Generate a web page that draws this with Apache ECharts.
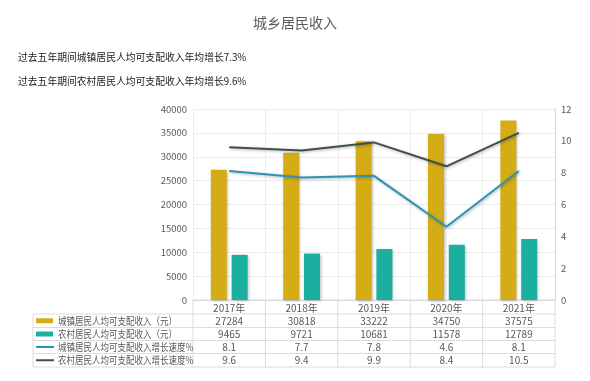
<!DOCTYPE html>
<html><head><meta charset="utf-8">
<script src="https://cdn.jsdelivr.net/npm/echarts@6/dist/echarts.min.js"></script>
<style>html,body{margin:0;padding:0;background:#fff}#c{width:590px;height:381px}</style>
</head><body><div id="c"></div>
<script>
var categories = ['2017年','2018年','2019年','2020年','2021年'];
var urbanIncome = [27284, 30818, 33222, 34750, 37575];
var ruralIncome = [9465, 9721, 10681, 11578, 12789];
var urbanGrowth = [8.1, 7.7, 7.8, 4.6, 8.1];
var ruralGrowth = [9.6, 9.4, 9.9, 8.4, 10.5];
var seriesNames = ['城镇居民人均可支配收入（元）','农村居民人均可支配收入（元）','城镇居民人均可支配收入增长速度%','农村居民人均可支配收入增长速度%'];
var title = '城乡居民收入';
var notes = ['过去五年期间城镇居民人均可支配收入年均增长7.3%','过去五年期间农村居民人均可支配收入年均增长9.6%'];

var C_GOLD = '#D4AC16', C_TEAL = '#1BAFA0', C_BLUE = '#2E93B3', C_DARK = '#3D4F4B';
var GL = 193, GR = 555, GT = 109, GB = 300;
var font = 'Noto Sans CJK SC';
var chart = echarts.init(document.getElementById('c'));
var shadow = {shadowColor:'rgba(0,0,0,0.3)', shadowBlur:3, shadowOffsetX:1, shadowOffsetY:1};
chart.setOption({
  animation:false,
  textStyle:{fontFamily:font},
  title:{text:title,left:'center',top:11,textStyle:{fontSize:14,fontWeight:'normal',color:'#595959',fontFamily:font}},
  grid:{left:GL,right:590-GR,top:GT,bottom:381-GB,containLabel:false},
  xAxis:{type:'category',data:categories,
    axisLine:{lineStyle:{color:'#d9d9d9'}},axisTick:{show:true,length:0,lineStyle:{color:'#d9d9d9'}},
    splitLine:{show:true,lineStyle:{color:'#ececec'}},
    axisLabel:{color:'#595959',fontSize:10,margin:3}},
  yAxis:[
    {type:'value',min:0,max:40000,interval:5000,axisLine:{show:false},axisTick:{show:false},
     splitLine:{lineStyle:{color:'#ececec'}},axisLabel:{color:'#595959',fontSize:9.5,margin:6,formatter:function(v){return String(v);}}},
    {type:'value',min:0,max:12,interval:2,axisLine:{show:true,lineStyle:{color:'#d9d9d9'}},axisTick:{show:false},
     splitLine:{show:false},axisLabel:{color:'#595959',fontSize:9.5,margin:6}}
  ],
  series:[
    {name:seriesNames[0],type:'bar',data:urbanIncome,barWidth:16,barGap:'30%',itemStyle:Object.assign({color:C_GOLD},shadow)},
    {name:seriesNames[1],type:'bar',data:ruralIncome,barWidth:16,barGap:'30%',itemStyle:Object.assign({color:C_TEAL},shadow)},
    {name:seriesNames[2],type:'line',yAxisIndex:1,data:urbanGrowth,symbol:'none',lineStyle:Object.assign({color:C_BLUE,width:2},shadow),itemStyle:{color:C_BLUE}},
    {name:seriesNames[3],type:'line',yAxisIndex:1,data:ruralGrowth,symbol:'none',lineStyle:Object.assign({color:C_DARK,width:2},shadow),itemStyle:{color:C_DARK}}
  ]
});

// Data table + notes
var rows = [urbanIncome, ruralIncome, urbanGrowth, ruralGrowth];
var colors = [C_GOLD, C_TEAL, C_BLUE, C_DARK];
var rowTop = [314, 327.5, 340.5, 353.5, 367];
var tableLeft = 33;
var g = [];
notes.forEach(function(t,i){
  g.push({type:'text',x:18,y:57+i*24,style:{text:t,fontSize:9.8,fill:'#1a1a1a',fontFamily:font,textVerticalAlign:'middle',textBaseline:'middle'}});
});
var lc = '#dcdcdc';
g.push({type:'line',shape:{x1:GL,y1:GB,x2:GR,y2:GB},style:{stroke:lc}});
rowTop.forEach(function(y){ g.push({type:'line',shape:{x1:tableLeft,y1:y,x2:GR,y2:y},style:{stroke:lc}}); });
g.push({type:'line',shape:{x1:tableLeft,y1:rowTop[0],x2:tableLeft,y2:rowTop[4]},style:{stroke:lc}});
var step = (GR-GL)/categories.length;
for (var k=0;k<=categories.length;k++){
  var x = GL + k*step;
  g.push({type:'line',shape:{x1:x,y1:GB,x2:x,y2:rowTop[4]},style:{stroke:lc}});
}
rows.forEach(function(r,i){
  var yc = (rowTop[i]+rowTop[i+1])/2;
  if (i<2) g.push({type:'rect',shape:{x:36,y:yc-2.5,width:17,height:5},style:{fill:colors[i]}});
  else g.push({type:'line',shape:{x1:36,y1:yc,x2:54,y2:yc},style:{stroke:colors[i],lineWidth:2}});
  g.push({type:'text',x:58,y:yc,scaleX:0.85,originX:0,originY:0,style:{text:seriesNames[i],fontSize:10,fill:'#595959',fontFamily:font,textVerticalAlign:'middle',textBaseline:'middle'}});
  r.forEach(function(v,j){
    var xc = chart.convertToPixel({xAxisIndex:0},categories[j]);
    g.push({type:'text',x:xc,y:yc,style:{text:String(v),fontSize:10,fill:'#595959',fontFamily:font,textAlign:'center',textVerticalAlign:'middle',textBaseline:'middle'}});
  });
});
chart.setOption({graphic:g});
</script></body></html>
